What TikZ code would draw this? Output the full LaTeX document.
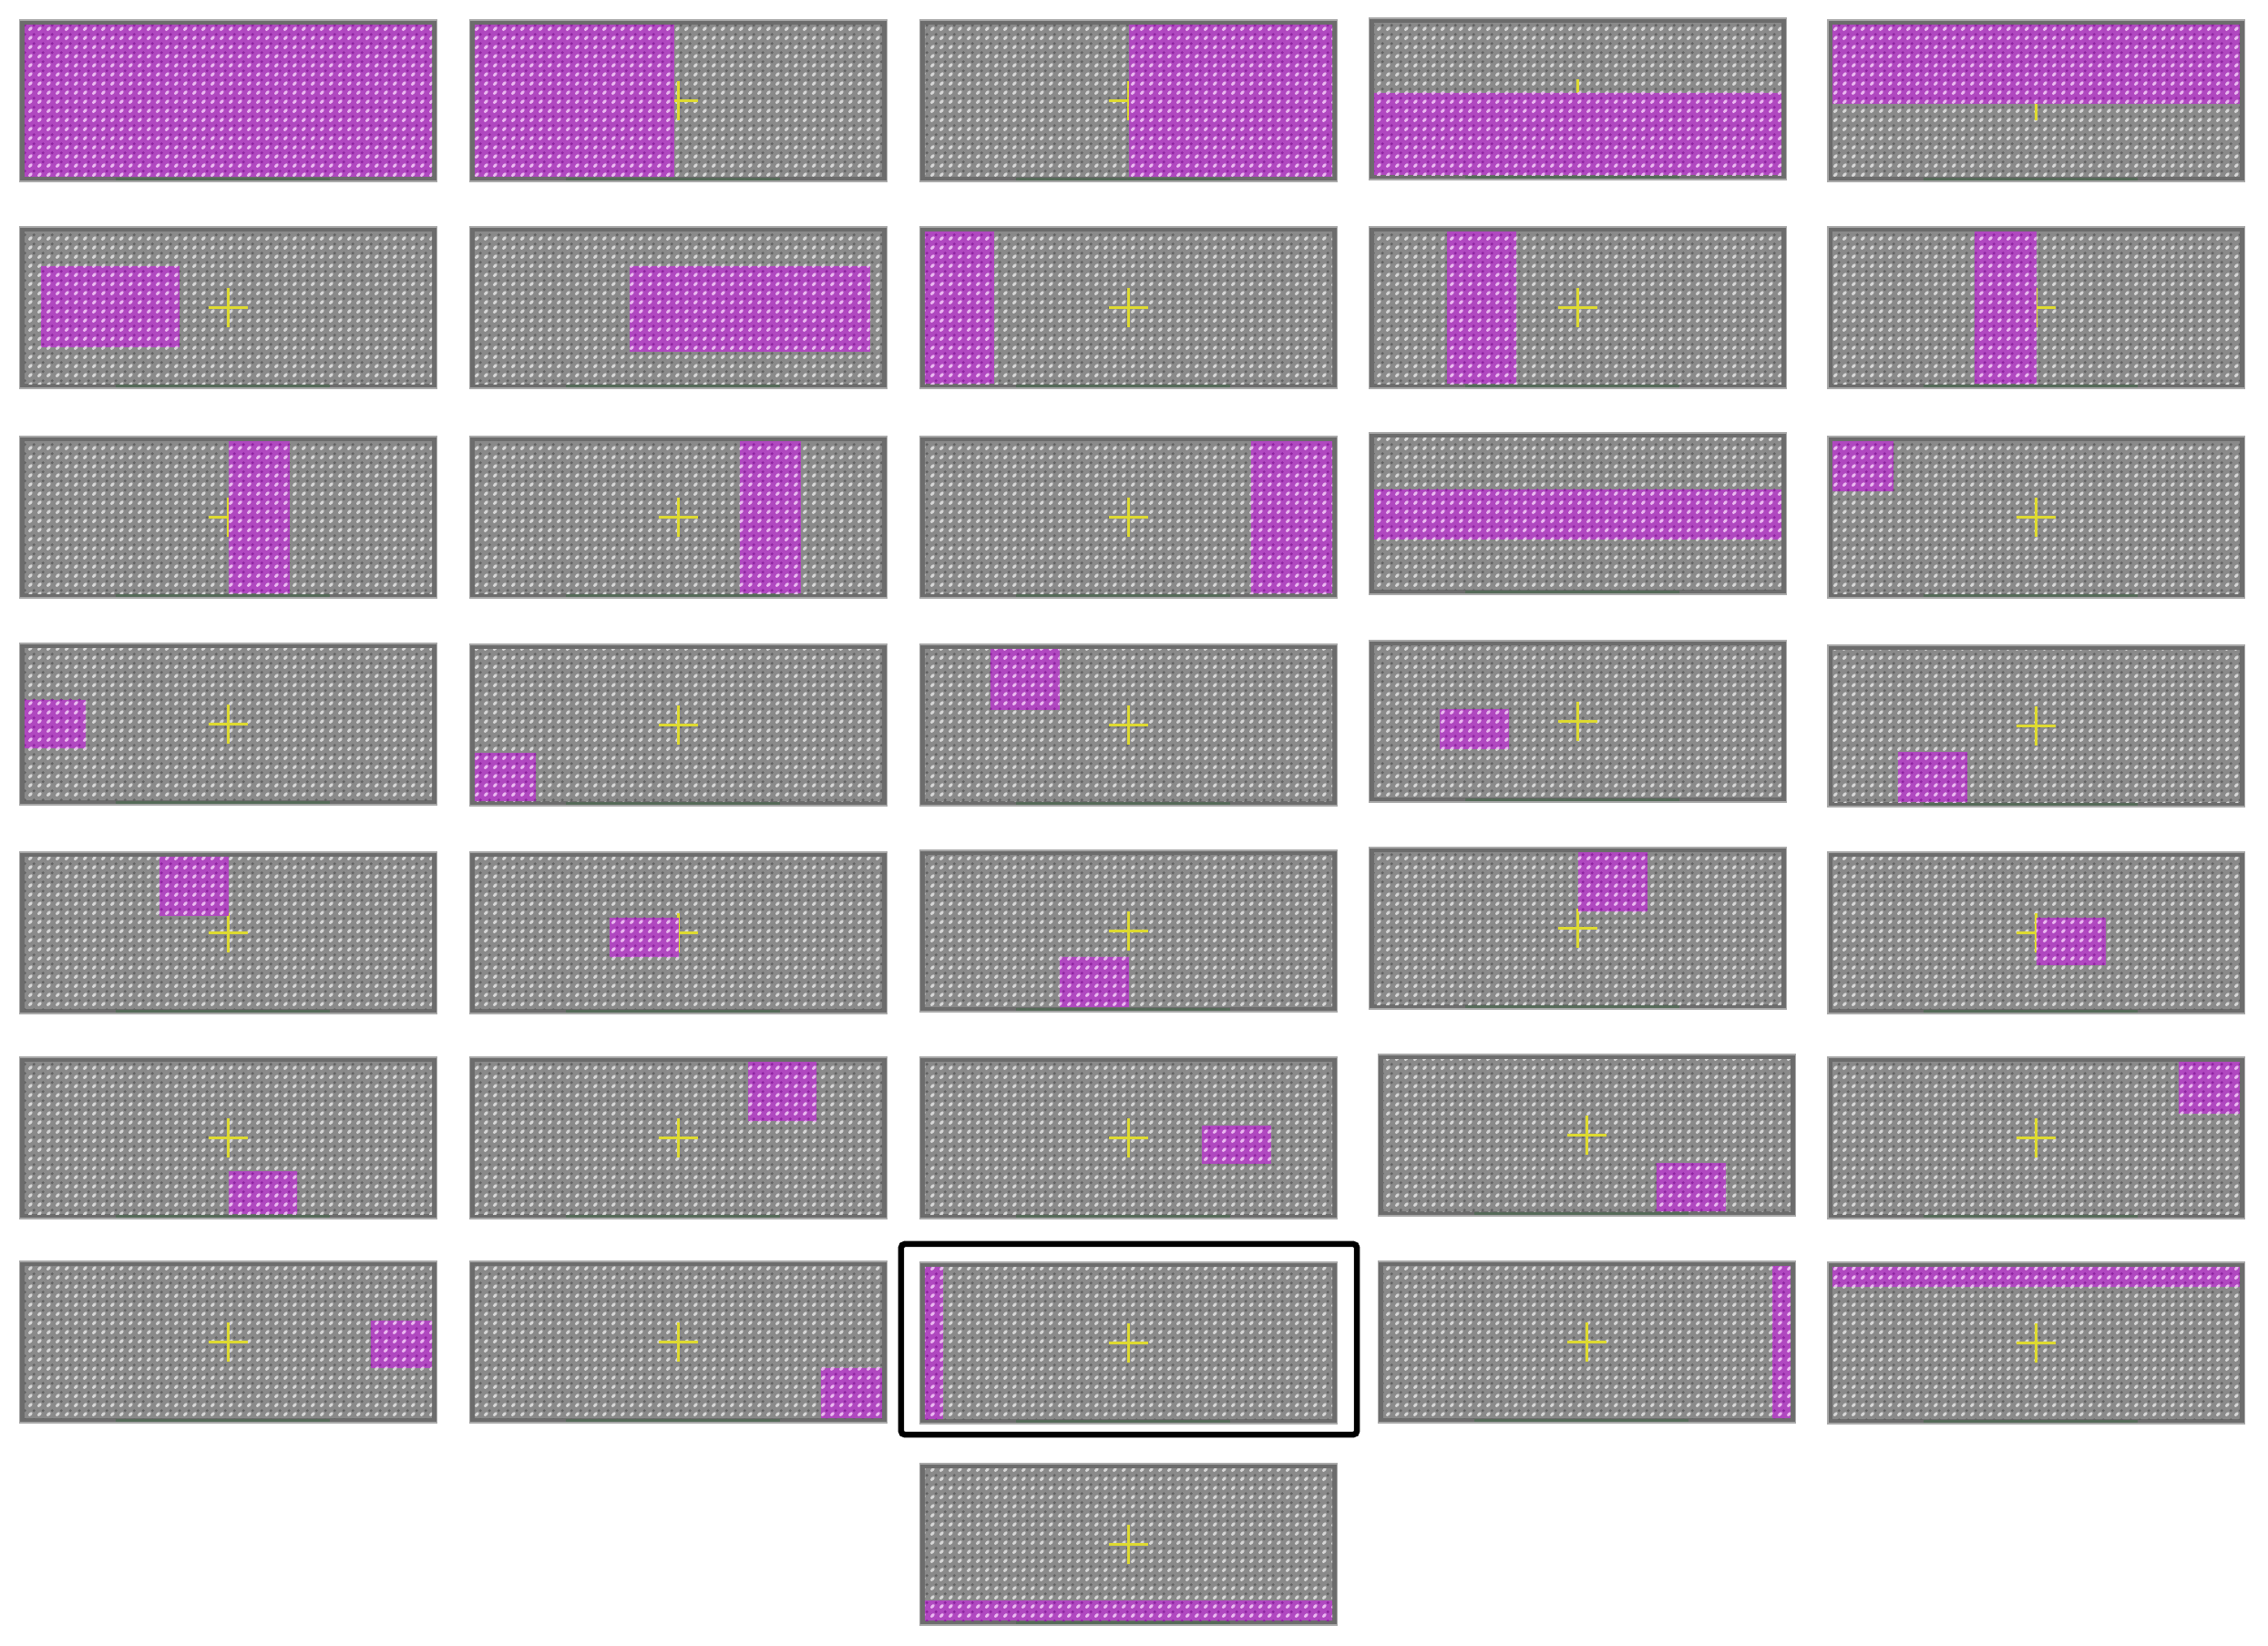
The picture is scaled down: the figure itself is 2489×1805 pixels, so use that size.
\documentclass[tikz,border=0pt]{standalone}
\usetikzlibrary{patterns,calc}
\definecolor{gbase}{HTML}{8A8A8A}
\definecolor{glight}{HTML}{D6D6D6}
\definecolor{gdark}{HTML}{626262}
\definecolor{gborder}{HTML}{6C6C6C}
\definecolor{goutline}{HTML}{A8A8A8}
\definecolor{mbase}{HTML}{B048C0}
\definecolor{mlight}{HTML}{EAB8F0}
\definecolor{mdark}{HTML}{8E22A0}
\definecolor{xyellow}{HTML}{DEDA30}
\definecolor{xgreen}{HTML}{4E6A52}
\pgfdeclarepatternformonly{texlight}{\pgfpointorigin}{\pgfqpoint{2.845pt}{2.845pt}}{\pgfqpoint{2.845pt}{2.845pt}}{%
  \pgfpathellipse{\pgfqpoint{1.05pt}{1.05pt}}{\pgfqpoint{0.62pt}{0.62pt}}{\pgfqpoint{-0.36pt}{0.36pt}}%
  \pgfusepath{fill}}
\pgfdeclarepatternformonly{texdark}{\pgfpointorigin}{\pgfqpoint{2.845pt}{2.845pt}}{\pgfqpoint{2.845pt}{2.845pt}}{%
  \pgfpathcircle{\pgfqpoint{2.25pt}{2.25pt}}{0.5pt}%
  \pgfusepath{fill}}
\tikzset{
  graytex/.style={fill=gbase, postaction={pattern=texlight, pattern color=glight}, postaction={pattern=texdark, pattern color=gdark}},
  magtex/.style={fill=mbase, postaction={pattern=texlight, pattern color=mlight}, postaction={pattern=texdark, pattern color=mdark}},
  panelbox/.style={rectangle, fill=gborder, draw=goutline, line width=0.012cm, minimum width=4.57cm, minimum height=1.77cm, inner sep=0pt, outer sep=0pt},
  crossline/.style={draw=xyellow, line width=0.034cm},
  greenline/.style={draw=xgreen, line width=0.03cm, opacity=0.75},
  hlframe/.style={draw=black, line width=0.065cm, rounded corners=0.04cm}
}
% name, x, y, fx0, fx1, fy0, fy1
\newcommand\mypanel[7]{%
  \begin{scope}[shift={(#2,#3)}]
    \node[panelbox] (#1) at (228.5,88.5) {};
    \fill[graytex] (5,5) rectangle (452,172);
    \draw[greenline] (105,174) -- (340,174);
    \draw[crossline] (207,88.5) -- (250,88.5);
    \draw[crossline] (228.5,67) -- (228.5,110);
    \pgfmathsetmacro\ax{5+#4*447}%
    \pgfmathsetmacro\bx{5+#5*447}%
    \pgfmathsetmacro\ay{5+#6*167}%
    \pgfmathsetmacro\by{5+#7*167}%
    \fill[magtex] (\ax,\ay) rectangle (\bx,\by);
  \end{scope}}
\begin{document}
\begin{tikzpicture}[x=0.01cm,y=-0.01cm]
\fill[white] (0,0) rectangle (2489,1805);
\useasboundingbox (0,0) rectangle (2489,1805);
% row 1
\mypanel{p1}{22}{22}{0}{1}{0}{1}
\mypanel{p2}{516}{22}{0}{0.49}{0}{1}
\mypanel{p3}{1010}{22}{0.5}{1}{0}{1}
\mypanel{p4}{1503}{20}{0}{1}{0.46}{1}
\mypanel{p5}{2006}{22}{0}{1}{0}{0.52}
% row 2
\mypanel{p6}{22}{249}{0.04}{0.38}{0.23}{0.76}
\mypanel{p7}{516}{249}{0.38}{0.97}{0.23}{0.79}
\mypanel{p8}{1010}{249}{0}{0.17}{0}{1}
\mypanel{p9}{1503}{249}{0.18}{0.35}{0}{1}
\mypanel{p10}{2006}{249}{0.35}{0.5}{0}{1}
% row 3
\mypanel{p11}{22}{479}{0.5}{0.65}{0}{1}
\mypanel{p12}{516}{479}{0.65}{0.8}{0}{1}
\mypanel{p13}{1010}{479}{0.8}{1}{0}{1}
\mypanel{p14}{1503}{475}{0}{1}{0.34}{0.67}
\mypanel{p15}{2006}{479}{0}{0.15}{0}{0.33}
% row 4
\mypanel{p16}{22}{706}{0}{0.15}{0.34}{0.66}
\mypanel{p17}{516}{707}{0}{0.15}{0.68}{1}
\mypanel{p18}{1010}{707}{0.16}{0.33}{0}{0.4}
\mypanel{p19}{1503}{703}{0.16}{0.33}{0.42}{0.68}
\mypanel{p20}{2006}{708}{0.16}{0.33}{0.67}{1}
% row 5
\mypanel{p21}{22}{935}{0.33}{0.5}{0}{0.39}
\mypanel{p22}{516}{935}{0.33}{0.5}{0.4}{0.66}
\mypanel{p23}{1010}{933}{0.33}{0.5}{0.67}{1}
\mypanel{p24}{1503}{930}{0.5}{0.67}{0}{0.39}
\mypanel{p25}{2006}{935}{0.5}{0.67}{0.4}{0.71}
% row 6
\mypanel{p26}{22}{1160}{0.5}{0.67}{0.72}{1}
\mypanel{p27}{516}{1160}{0.67}{0.84}{0}{0.39}
\mypanel{p28}{1010}{1160}{0.68}{0.85}{0.42}{0.67}
\mypanel{p29}{1513}{1157}{0.67}{0.84}{0.68}{1}
\mypanel{p30}{2006}{1160}{0.85}{1}{0}{0.34}
% row 7
\mypanel{p31}{22}{1384}{0.85}{1}{0.36}{0.67}
\mypanel{p32}{516}{1384}{0.85}{1}{0.67}{1}
\mypanel{p33}{1010}{1385}{0}{0.045}{0}{1}
\mypanel{p34}{1513}{1384}{0.955}{1}{0}{1}
\mypanel{p35}{2006}{1385}{0}{1}{0}{0.13}
% row 8
\mypanel{p36}{1010}{1606}{0}{1}{0.87}{1}
% highlight frame
\draw[hlframe] ($(p33.north west)+(-21,-20)$) rectangle ($(p33.south east)+(22,12)$);
\end{tikzpicture}
\end{document}
